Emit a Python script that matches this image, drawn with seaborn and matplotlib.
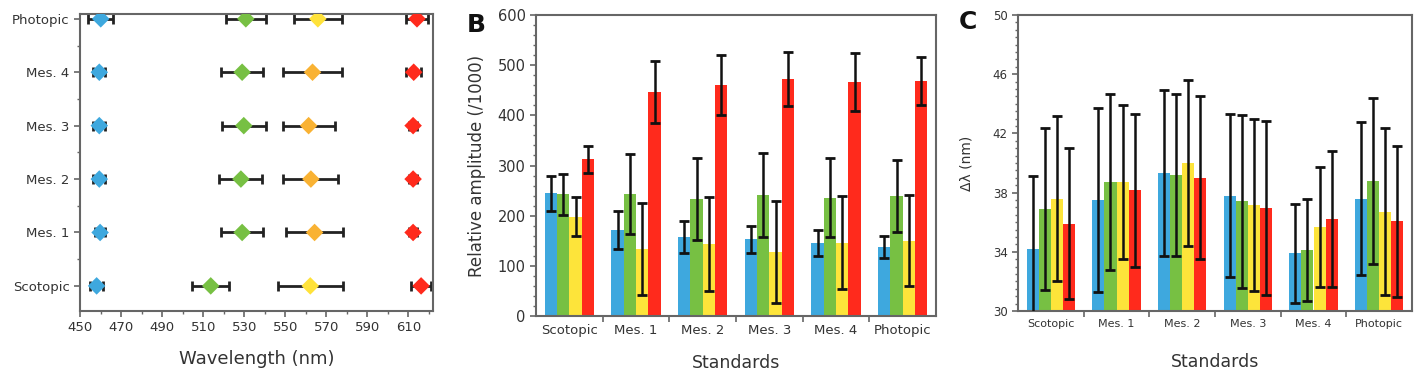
import numpy as np
import pandas as pd
import matplotlib
matplotlib.use("Agg")
import matplotlib.pyplot as plt
from matplotlib.ticker import MultipleLocator, FixedLocator
import seaborn as sns

sns.set_theme(style="white")
plt.rcParams['font.family'] = ['DejaVu Sans']

# ---------------- data ----------------
standards = ["Scotopic", "Mes. 1", "Mes. 2", "Mes. 3", "Mes. 4", "Photopic"]
cones = ["blue", "green", "yellow", "red"]

# Panel A: peak wavelength (nm) and horizontal error
peak_blue = [458.1, 459.8, 459.4, 459.4, 459.4, 460.1]
peak_blue_err = [3.0, 2.5, 3.0, 3.0, 3.0, 6.0]
peak_green = [513.7, 529.0, 528.4, 529.8, 529.0, 530.8]
peak_green_err = [9.0, 10.2, 10.5, 10.8, 10.2, 9.6]
peak_yellow = [562.2, 564.3, 562.5, 561.4, 563.3, 565.9]
peak_yellow_err = [15.8, 14.0, 13.4, 12.7, 14.6, 11.8]
peak_red = [616.2, 612.3, 612.3, 612.3, 612.6, 614.2]
peak_red_err = [4.7, 2.0, 2.0, 2.0, 3.7, 5.3]
# yellow series marker colours per standard (mesopic = orange)
yellow_marker_colors = ["#FFE23A", "#F9B233", "#F9B233", "#F9B233", "#F9B233", "#FFE23A"]

# Panel B: relative amplitude (/1000)
amp_blue = [244.5, 171.4, 157.0, 153.0, 146.0, 137.0]
amp_blue_err = [35.5, 37.0, 31.5, 26.5, 26.0, 22.0]
amp_green = [242.5, 242.5, 232.5, 241.0, 236.0, 239.0]
amp_green_err = [40.5, 80.0, 82.0, 84.5, 79.5, 72.5]
amp_yellow = [198.0, 133.0, 143.5, 128.0, 146.0, 150.0]
amp_yellow_err = [38.5, 92.0, 94.0, 102.0, 93.0, 91.0]
amp_red = [312.0, 447.0, 460.5, 472.5, 467.0, 468.5]
amp_red_err = [27.0, 61.5, 60.0, 53.0, 58.0, 48.5]

# Panel C: bandwidth (nm)
bw_blue = [34.2, 37.5, 39.3, 37.8, 33.9, 37.6]
bw_blue_err = [4.9, 6.2, 5.6, 5.5, 3.35, 5.15]
bw_green = [36.9, 38.7, 39.2, 37.4, 34.1, 38.8]
bw_green_err = [5.45, 5.95, 5.45, 5.85, 3.45, 5.6]
bw_yellow = [37.6, 38.7, 40.0, 37.15, 35.7, 36.7]
bw_yellow_err = [5.6, 5.2, 5.6, 5.8, 4.05, 5.65]
bw_red = [35.9, 38.15, 39.0, 36.97, 36.2, 36.07]
bw_red_err = [5.1, 5.15, 5.5, 5.9, 4.6, 5.1]

palette = {"blue": "#3EA8DE", "green": "#77C043", "yellow": "#FDE43A", "red": "#FF2A1C"}
TXT = "#333333"
SPINE = "#666666"

# ---------------- figure ----------------
fig = plt.figure(figsize=(14.14, 3.72), dpi=100)
axA = fig.add_axes([80/1414, 61/372, 353/1414, 297/372])
axB = fig.add_axes([536/1414, 56/372, 400/1414, 301/372])
axC = fig.add_axes([1018/1414, 61/372, 394/1414, 296/372])

for ax in (axA, axB, axC):
    for s in ax.spines.values():
        s.set_color(SPINE)
        s.set_linewidth(1.5)
    ax.tick_params(which="both", direction="out", color=SPINE, colors=TXT,
                   left=True, bottom=True)
    ax.tick_params(which="major", length=4, width=1.2)
    ax.tick_params(which="minor", length=2.5, width=1.0)

# ---------- Panel A ----------
ypos = np.arange(len(standards))
err_kw = dict(fmt="none", ecolor="#222222", elinewidth=2.0, capsize=3.5, capthick=2.0, zorder=2)
axA.errorbar(peak_blue, ypos, xerr=peak_blue_err, **err_kw)
axA.errorbar(peak_green, ypos, xerr=peak_green_err, **err_kw)
axA.errorbar(peak_yellow, ypos, xerr=peak_yellow_err, **err_kw)
axA.errorbar(peak_red, ypos, xerr=peak_red_err, **err_kw)
dfA = pd.DataFrame({
    "wl": peak_blue + peak_green + peak_red,
    "y": list(ypos) * 3,
    "cone": ["blue"] * 6 + ["green"] * 6 + ["red"] * 6,
})
sns.scatterplot(data=dfA, x="wl", y="y", hue="cone", palette=palette, marker="D",
                s=80, linewidth=0, legend=False, ax=axA, zorder=3)
axA.scatter(peak_yellow, ypos, c=yellow_marker_colors, marker="D", s=80, linewidth=0, zorder=3)
axA.set_xlim(450, 622)
axA.set_ylim(-0.47, 5.09)
axA.xaxis.set_major_locator(FixedLocator(np.arange(450, 611, 20)))
axA.xaxis.set_minor_locator(FixedLocator(np.arange(460, 621, 20)))
axA.set_yticks(ypos)
axA.set_yticklabels(standards, fontsize=9.5, color=TXT)
axA.yaxis.set_minor_locator(FixedLocator(np.arange(-0.5, 5.0, 1.0)))
for lab in axA.get_xticklabels():
    lab.set_fontsize(9.5)
axA.set_xlabel("Wavelength (nm)", fontsize=13, color=TXT, labelpad=11)
axA.set_ylabel("")


def grouped_bars(ax, vals, errs, ylim):
    df = pd.DataFrame({
        "std": standards * 4,
        "cone": sum([[c] * 6 for c in cones], []),
        "val": sum(vals, []),
    })
    sns.barplot(data=df, x="std", y="val", hue="cone", order=standards, hue_order=cones,
                palette=palette, saturation=1, width=0.74, gap=0, errorbar=None,
                linewidth=0, edgecolor="none", legend=False, ax=ax, zorder=1)
    for cont, e in zip(ax.containers, errs):
        xs = [p.get_x() + p.get_width() / 2 for p in cont.patches]
        hs = [p.get_height() for p in cont.patches]
        ax.errorbar(xs, hs, yerr=e, fmt="none", ecolor="#111111", elinewidth=1.8,
                    capsize=3.5, capthick=2.0, zorder=3)
    ax.set_ylim(*ylim)
    ax.set_xlim(-0.5, 5.5)
    ax.xaxis.set_major_locator(FixedLocator(np.arange(6)))
    ax.set_xticklabels(standards)
    ax.tick_params(axis="x", which="major", length=0)
    ax.xaxis.set_minor_locator(FixedLocator(np.arange(0.5, 5.0, 1.0)))
    ax.tick_params(axis="x", which="minor", length=4, width=1.2)


# ---------- Panel B ----------
grouped_bars(axB, [amp_blue, amp_green, amp_yellow, amp_red],
             [amp_blue_err, amp_green_err, amp_yellow_err, amp_red_err], (0, 600))
axB.yaxis.set_major_locator(MultipleLocator(100))
axB.yaxis.set_minor_locator(MultipleLocator(20))
axB.tick_params(axis="y", labelsize=10.5)
axB.tick_params(axis="x", labelsize=9.5, pad=6)
axB.set_xlabel("Standards", fontsize=12.5, color=TXT, labelpad=12)
axB.set_ylabel("Relative amplitude (/1000)", fontsize=12, color=TXT, labelpad=8)

# ---------- Panel C ----------
grouped_bars(axC, [bw_blue, bw_green, bw_yellow, bw_red],
             [bw_blue_err, bw_green_err, bw_yellow_err, bw_red_err], (30, 50))
axC.yaxis.set_major_locator(FixedLocator(np.arange(30, 51, 4)))
axC.yaxis.set_minor_locator(MultipleLocator(0.5))
axC.tick_params(axis="y", labelsize=8.5)
axC.tick_params(axis="x", labelsize=8, pad=6)
axC.set_xlabel("Standards", fontsize=12.5, color=TXT, labelpad=17)
axC.set_ylabel("Δλ (nm)", fontsize=10, color=TXT, labelpad=14)

fig.text(476/1414, 1 - 25/372, "B", fontsize=18, fontweight="bold", color="#111111",
         ha="center", va="center")
fig.text(968/1414, 1 - 22/372, "C", fontsize=18, fontweight="bold", color="#111111",
         ha="center", va="center")

fig.savefig("out.png", dpi=100)
